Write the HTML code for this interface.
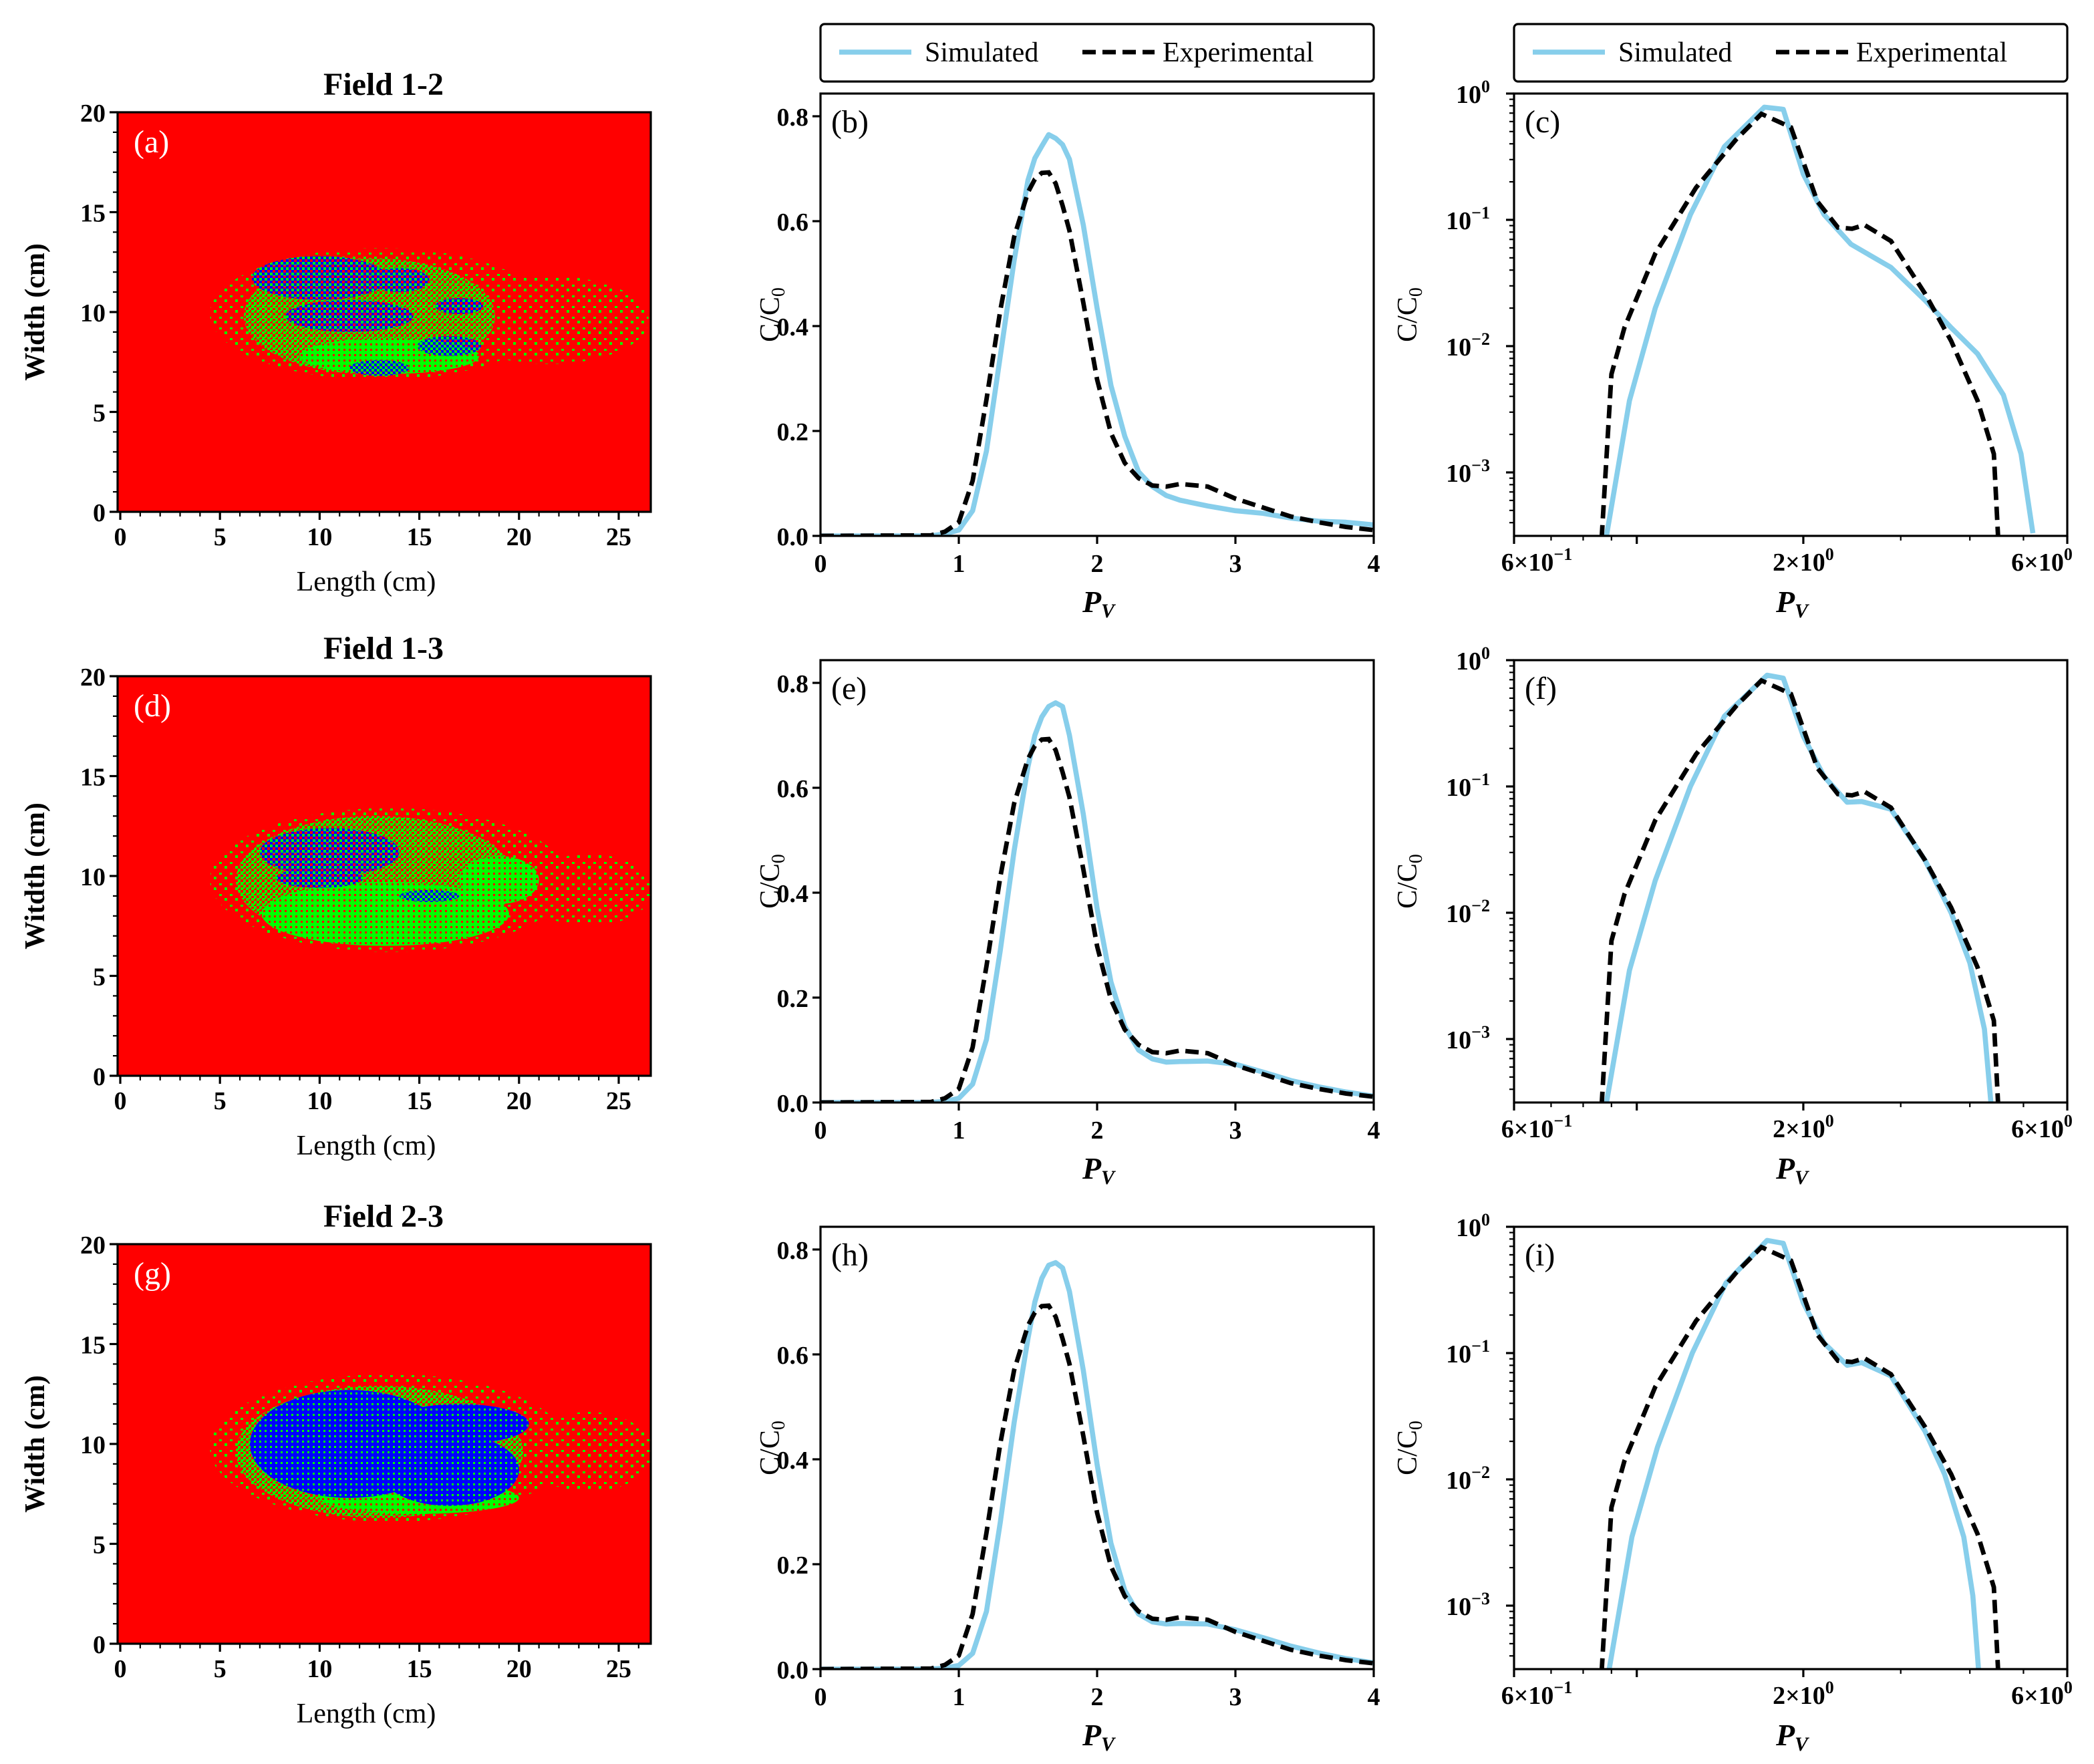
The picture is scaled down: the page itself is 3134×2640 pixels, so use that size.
<!DOCTYPE html>
<html><head><meta charset="utf-8">
<style>
html,body{margin:0;padding:0;background:#fff;}
svg{display:block;}
text{font-family:"Liberation Serif","DejaVu Serif",serif;fill:#000;}
</style></head>
<body>
<svg id="fig" width="3134" height="2640" viewBox="0 0 1567 1320" xmlns="http://www.w3.org/2000/svg">
<defs>
<pattern id="pSparse" width="8" height="8" patternUnits="userSpaceOnUse">
<rect x="0" y="0" width="2" height="2" fill="#00ff00"/><rect x="4" y="5" width="2" height="1.5" fill="#00ff00"/>
</pattern>
<pattern id="pMed" width="4" height="4" patternUnits="userSpaceOnUse">
<rect x="0" y="0" width="2" height="2" fill="#00ff00"/><rect x="2" y="2" width="2" height="2" fill="#00ff00"/><rect x="2" y="0" width="1" height="1" fill="#00ff00"/>
</pattern>
<pattern id="pDense" width="4" height="4" patternUnits="userSpaceOnUse">
<rect x="0" y="0" width="4" height="4" fill="#00ff00"/><rect x="1" y="1" width="1.5" height="1.5" fill="#ff0000"/>
</pattern>
<pattern id="pBlue" width="4" height="4" patternUnits="userSpaceOnUse">
<rect x="0" y="0" width="4" height="4" fill="#0000ff"/><rect x="2" y="2" width="1.5" height="1.5" fill="#00ff00"/>
</pattern>
<pattern id="pBlueMix" width="4" height="4" patternUnits="userSpaceOnUse">
<rect x="0" y="0" width="2" height="2" fill="#0000ff"/><rect x="2" y="2" width="2" height="2" fill="#0000ff"/><rect x="2" y="0" width="2" height="2" fill="#00ff00"/>
</pattern>
</defs>
<g id="root"></g>
</svg>
<script>
// ---------- heatmap blob data (cm): [cx, cy, rx, ry] ----------
const hmSparse1 = [[13,9.9,8.5,3.3],[21.5,9.6,5,2.2]];
const hmMed1 = [[12.5,9.8,6.3,2.9]];
const hmDense1 = [[13.5,7.8,4.5,0.9]];
const hmBlue1 = [[10,11.7,3.4,1.1],[11.5,9.8,3.2,0.8],[16.5,8.3,1.6,0.5],[13,7.2,1.5,0.4],[14,11.6,1.5,0.6],[17,10.3,1.2,0.4]];
const hmSparse2 = [[13.5,9.8,9,3.6],[23.5,9.3,3.2,1.8]];
const hmMed2 = [[12.8,9.8,7,3.2]];
const hmDense2 = [[13.3,8.1,6.2,1.6],[19,9.8,2,1.2]];
const hmBlue2 = [[10.5,11.2,3.5,1.2],[10,9.9,2.2,0.5],[15.5,9,1.5,0.3]];
const hmSparse3 = [[13.5,9.8,9,3.7],[23.5,9.6,3.2,2]];
const hmMed3 = [[13,9.6,7.2,3.3]];
const hmDense3 = [[15,7.3,5,0.8]];
const hmBlue3 = [[11.5,10,5,2.7],[16.5,8.7,3.5,1.8],[17,11,3.5,1]];
const hmXTicks = [0,5,10,15,20,25];
const hmYTicks = [0,5,10,15,20];
const hmTitles = ["Field 1-2","Field 1-3","Field 2-3"];
const hmLetters = ["(a)","(d)","(g)"];

// ---------- linear panel data ----------
const linTicksX = [0,1,2,3,4];
const linTicksY = [0.0,0.2,0.4,0.6,0.8];
const linPV = [0,0.8,0.9,1.0,1.1,1.2,1.3,1.4,1.5,1.55,1.6,1.65,1.7,1.75,1.8,1.9,2.0,2.1,2.2,2.3,2.4,2.5,2.6,2.8,3.0,3.2,3.4,3.6,3.8,4.0];
const linExp = [0,0.001,0.008,0.026,0.105,0.26,0.43,0.57,0.655,0.68,0.692,0.693,0.672,0.63,0.582,0.445,0.298,0.196,0.139,0.11,0.096,0.094,0.099,0.094,0.071,0.054,0.037,0.026,0.017,0.011];
const linSim1 = [0,0.0,0.004,0.011,0.048,0.162,0.343,0.525,0.678,0.72,0.743,0.765,0.758,0.746,0.718,0.593,0.434,0.287,0.19,0.122,0.094,0.077,0.068,0.057,0.048,0.043,0.034,0.028,0.026,0.021];
const linSim2 = [0,0.0,0.002,0.008,0.035,0.12,0.29,0.48,0.64,0.7,0.735,0.755,0.762,0.755,0.7,0.55,0.37,0.23,0.145,0.1,0.083,0.077,0.078,0.079,0.073,0.058,0.042,0.03,0.02,0.012];
const linSim3 = [0,0.0,0.002,0.007,0.03,0.11,0.28,0.47,0.63,0.7,0.745,0.77,0.775,0.765,0.72,0.57,0.39,0.24,0.15,0.105,0.09,0.086,0.087,0.086,0.075,0.06,0.044,0.031,0.02,0.012];
const linLetters = ["(b)","(e)","(h)"];

// ---------- log panel data ----------
const logExpPV = [0.864,0.9,0.95,1.08,1.28,1.51,1.68,1.9,2.12,2.31,2.45,2.58,2.88,3.32,3.7,4.13,4.42,4.5];
const logExp =   [0.0003,0.006,0.014,0.054,0.18,0.43,0.69,0.54,0.14,0.087,0.085,0.091,0.068,0.026,0.011,0.0037,0.0014,0.0003];
const logSimPV1 = [0.88,0.97,1.08,1.25,1.44,1.7,1.84,2.0,2.18,2.44,2.88,3.32,3.7,4.13,4.6,4.95,5.2];
const logSim1 =   [0.0003,0.0037,0.02,0.11,0.38,0.78,0.75,0.23,0.11,0.064,0.042,0.023,0.014,0.0087,0.0041,0.0014,0.00033];
const logSimPV2 = [0.88,0.97,1.08,1.25,1.44,1.72,1.84,2.0,2.18,2.4,2.55,2.88,3.32,3.7,4.0,4.25,4.37];
const logSim2 =   [0.0003,0.0035,0.018,0.1,0.36,0.76,0.72,0.25,0.12,0.075,0.076,0.066,0.026,0.01,0.004,0.0012,0.0003];
const logSimPV3 = [0.89,0.98,1.09,1.26,1.45,1.72,1.84,2.0,2.18,2.4,2.55,2.88,3.32,3.6,3.9,4.05,4.15];
const logSim3 =   [0.0003,0.0035,0.018,0.1,0.36,0.78,0.74,0.25,0.12,0.08,0.084,0.066,0.024,0.011,0.0035,0.0012,0.0003];
const logLetters = ["(c)","(f)","(i)"];
const logDecades = [0,-1,-2,-3];

const NS = "http://www.w3.org/2000/svg";
const root = document.getElementById('root');
function mk(tag, attrs, parent){
  const e = document.createElementNS(NS, tag);
  for (const k in attrs) e.setAttribute(k, attrs[k]);
  (parent||root).appendChild(e);
  return e;
}
function txt(x,y,s,size,anchor,parent,extra){
  const t = mk('text',Object.assign({x:x,y:y,'font-size':size,'text-anchor':anchor||'middle'},extra||{}),parent);
  t.textContent = s;
  return t;
}

const rowOff = [0,424,848];
const hmOff = [0,422,847];
const TK = 19;

// ---------- heatmaps ----------
const hmSets = [[hmSparse1,hmMed1,hmDense1,hmBlue1],[hmSparse2,hmMed2,hmDense2,hmBlue2],[hmSparse3,hmMed3,hmDense3,hmBlue3]];
for (let r=0;r<3;r++){
  const L=88,R=487,T=84+hmOff[r],B=383+hmOff[r];
  const sx = v => 90 + v*14.92;
  const sy = v => B - v*(B-T)/20;
  const g = mk('g',{});
  
  
  const cp = mk('clipPath',{id:'hmclip'+r},g);
  mk('rect',{x:L,y:T,width:R-L,height:B-T},cp);
  const bg = mk('rect',{x:L,y:T,width:R-L,height:B-T,fill:'#ff0000'},g);
  
  
  const fills = ['url(#pSparse)','url(#pMed)','url(#pDense)', r===2?'url(#pBlue)':'url(#pBlueMix)'];
  const cg = mk('g',{'clip-path':'url(#hmclip'+r+')'},g);
  hmSets[r].forEach((set,si)=>{
    set.forEach(b=>{
      const e = mk('ellipse',{cx:sx(b[0]),cy:sy(b[1]),rx:b[2]*14.92,ry:b[3]*14.95,fill:fills[si]},cg);
      
      
    });
  });
  mk('rect',{x:L,y:T,width:R-L,height:B-T,fill:'none',stroke:'#000','stroke-width':1.6},g);
  for (let v=0; v<=26; v++){
    const major = v%5===0;
    mk('line',{x1:sx(v),x2:sx(v),y1:B,y2:B+(major?6:3.5),stroke:'#000','stroke-width':major?1.6:1.1},g);
  }
  for (let v=0; v<=20; v++){
    const major = v%5===0;
    mk('line',{x1:L,x2:L-(major?6:3.5),y1:sy(v),y2:sy(v),stroke:'#000','stroke-width':major?1.6:1.1},g);
  }
  hmXTicks.forEach(v=>{const t=txt(sx(v),B+25,String(v),TK,'middle',g,{'font-weight':'bold'});
    });
  hmYTicks.forEach(v=>{const t=txt(L-9,sy(v)+7,String(v),TK,'end',g,{'font-weight':'bold'});
    });
  const xl = txt(274,B+65-6,'Length (cm)',21,'middle',g);
  
  
  const yl = txt(0,0,r===1?'Witdth (cm)':'Width (cm)',21,'middle',g,{'font-weight':'bold',transform:'translate(33,'+((T+B)/2)+') rotate(-90)'});
  
  
  const tt = txt(287,T-13,hmTitles[r],24,'middle',g,{'font-weight':'bold'});
  
  
  const lt = txt(100,T+30,hmLetters[r],24,'start',g,{fill:'#fff',style:'fill:#fff'});
  
  
}

// ---------- linear panels ----------
const linSims = [linSim1,linSim2,linSim3];
function pathFrom(xs,ys,sx,sy){
  return xs.map((x,i)=>(i?'L':'M')+sx(x).toFixed(2)+','+sy(ys[i]).toFixed(2)).join(' ');
}
for (let r=0;r<3;r++){
  const L=614,R=1028,T=70+rowOff[r],B=401+rowOff[r];
  const sx = v => L + v*(R-L)/4;
  const sy = v => B - v*392.5;
  const g = mk('g',{});
  
  
  const cp = mk('clipPath',{id:'linclip'+r},g);
  mk('rect',{x:L,y:T,width:R-L,height:B-T},cp);
  const cg = mk('g',{'clip-path':'url(#linclip'+r+')'},g);
  const s = mk('path',{d:pathFrom(linPV,linSims[r],sx,sy),fill:'none',stroke:'#87ceeb','stroke-width':3.8,'stroke-linejoin':'round'},cg);
  
  
  const e = mk('path',{d:pathFrom(linPV,linExp,sx,sy),fill:'none',stroke:'#000','stroke-width':3.4,'stroke-dasharray':'10 5'},cg);
  
  
  mk('rect',{x:L,y:T,width:R-L,height:B-T,fill:'none',stroke:'#000','stroke-width':1.6},g);
  linTicksX.forEach(v=>{
    mk('line',{x1:sx(v),x2:sx(v),y1:B,y2:B+6,stroke:'#000','stroke-width':1.6},g);
    const t=txt(sx(v),B+27,String(v),TK,'middle',g,{'font-weight':'bold'});
    
  });
  linTicksY.forEach(v=>{
    mk('line',{x1:L,x2:L-6,y1:sy(v),y2:sy(v),stroke:'#000','stroke-width':1.6},g);
    const t=txt(L-9,sy(v)+7,v.toFixed(1),TK,'end',g,{'font-weight':'bold'});
    
  });
  const xl = txt(822,B+57,'',23,'middle',g,{'font-style':'italic','font-weight':'bold'});
  
  
  xl.appendChild(document.createTextNode('P'));
  const sub = mk('tspan',{'font-size':15,dy:4},xl); sub.textContent='V';
  const yl = txt(0,0,'C/C',21,'middle',g,{transform:'translate(583,'+((T+B)/2)+') rotate(-90)'});
  
  
  const s0 = mk('tspan',{'font-size':14,dy:4},yl); s0.textContent='0';
  const lt = txt(622,T+29,linLetters[r],24,'start',g);
  
  
}

// ---------- log panels ----------
const logSimPVs = [logSimPV1,logSimPV2,logSimPV3];
const logSims = [logSim1,logSim2,logSim3];
for (let r=0;r<3;r++){
  const L=1133,R=1547,T=70+rowOff[r],B=401+rowOff[r];
  const sx = v => L + (R-L)*Math.log10(v/0.6);
  const sy = v => T - Math.log10(v)*94.5;
  const g = mk('g',{});
  
  
  const cp = mk('clipPath',{id:'logclip'+r},g);
  mk('rect',{x:L,y:T,width:R-L,height:B-T},cp);
  const cg = mk('g',{'clip-path':'url(#logclip'+r+')'},g);
  const s = mk('path',{d:pathFrom(logSimPVs[r],logSims[r],sx,sy),fill:'none',stroke:'#87ceeb','stroke-width':3.8,'stroke-linejoin':'round'},cg);
  
  
  const e = mk('path',{d:pathFrom(logExpPV,logExp,sx,sy),fill:'none',stroke:'#000','stroke-width':3.4,'stroke-dasharray':'10 5'},cg);
  
  
  mk('rect',{x:L,y:T,width:R-L,height:B-T,fill:'none',stroke:'#000','stroke-width':1.6},g);
  [0.6,0.7,0.8,0.9,1,2,3,4,5,6].forEach(v=>{
    const maj = (v===0.6||v===2||v===6||v===1);
    mk('line',{x1:sx(v),x2:sx(v),y1:B,y2:B+(maj?6:3.5),stroke:'#000','stroke-width':maj?1.6:1.1},g);
  });
  [[0.6,'6','−1',1150],[2,'2','0',null],[6,'6','0',1528]].forEach(d=>{
    const t = txt(d[3]||sx(d[0]),B+26,d[1]+'×10',TK,'middle',g,{'font-weight':'bold'});
    
    const sp = mk('tspan',{'font-size':13,dy:-8},t); sp.textContent=d[2];
  });
  logDecades.forEach(dd=>{
    const y = sy(Math.pow(10,dd));
    mk('line',{x1:L,x2:L-6,y1:y,y2:y,stroke:'#000','stroke-width':1.6},g);
    for (let m=2;m<=9;m++){
      const yy = sy(m*Math.pow(10,dd-1));
      if (yy<=B && yy>=T) mk('line',{x1:L,x2:L-3.5,y1:yy,y2:yy,stroke:'#000','stroke-width':1.1},g);
    }
    const t = txt(L-18,y+7,'10',TK,'end',g,{'font-weight':'bold'});
    
    const sp = mk('tspan',{'font-size':13,dy:-8},t); sp.textContent=dd===0?'0':'−'+(-dd);
  });
  const xl = txt(1341,B+57,'',23,'middle',g,{'font-style':'italic','font-weight':'bold'});
  
  
  xl.appendChild(document.createTextNode('P'));
  const sub = mk('tspan',{'font-size':15,dy:4},xl); sub.textContent='V';
  const yl = txt(0,0,'C/C',21,'middle',g,{transform:'translate(1060,'+((T+B)/2)+') rotate(-90)'});
  
  
  const s0 = mk('tspan',{'font-size':14,dy:4},yl); s0.textContent='0';
  const lt = txt(1141,T+29,logLetters[r],24,'start',g);
  
  
}

// ---------- legends ----------
[614,1133].forEach((x0,i)=>{
  const g = mk('g',{});
  
  
  mk('rect',{x:x0,y:18,width:414,height:43,rx:3,fill:'#fff',stroke:'#000','stroke-width':1.6},g);
  const l1 = mk('line',{x1:x0+14,x2:x0+68,y1:39,y2:39,stroke:'#87ceeb','stroke-width':3.8},g);
  
  
  const t1 = txt(x0+78,46,'Simulated',21,'start',g);
  
  
  const l2 = mk('line',{x1:x0+196,x2:x0+250,y1:39,y2:39,stroke:'#000','stroke-width':3.4,'stroke-dasharray':'10 5'},g);
  
  
  const t2 = txt(x0+256,46,'Experimental',21,'start',g);
  
  
});
</script>
</body></html>
